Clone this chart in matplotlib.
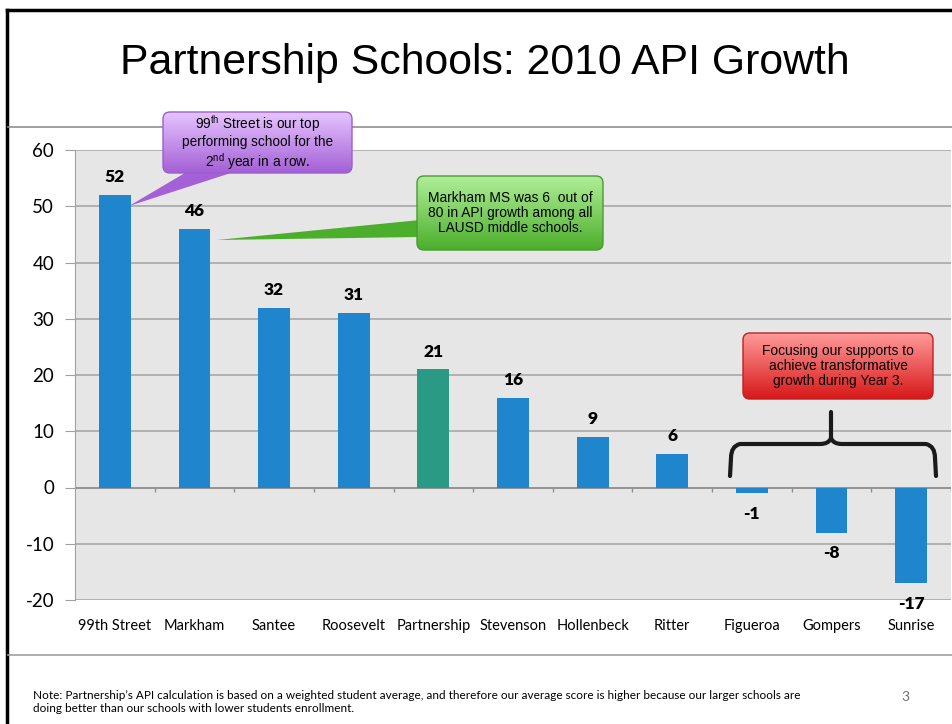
import matplotlib
matplotlib.use("Agg")
import matplotlib.pyplot as plt
import numpy as np
from matplotlib.patches import FancyBboxPatch, Polygon
from matplotlib.path import Path
from matplotlib.patches import PathPatch
from matplotlib.colors import LinearSegmentedColormap

schools = ["99th Street", "Markham", "Santee", "Roosevelt", "Partnership", "Stevenson",
           "Hollenbeck", "Ritter", "Figueroa", "Gompers", "Sunrise"]
growth = [52, 46, 32, 31, 21, 16, 9, 6, -1, -8, -17]
highlight = "Partnership"
yticks = [-20, -10, 0, 10, 20, 30, 40, 50, 60]

title = "Partnership Schools: 2010 API Growth"
note = ("Note: Partnership\u2019s API calculation is based on a weighted student average, and therefore our average score is higher because our larger schools are\n"
        "doing better than our schools with lower students enrollment.")

W, H = 952, 724
fig = plt.figure(figsize=(W / 100, H / 100), dpi=100)
fig.patch.set_facecolor("white")

def fx(x):
    return x / W

def fy(y):
    return 1 - y / H

# main chart axes
ax = fig.add_axes([fx(75), fy(600), fx(951) - fx(75), fy(150) - fy(600)])
ax.set_facecolor("#e6e6e6")
x = np.arange(len(schools))
colors = ["#2a9a84" if s == highlight else "#1f86cd" for s in schools]
ax.bar(x, growth, width=0.4, color=colors, zorder=3)
ax.set_xlim(-0.5, len(schools) - 0.5)
ax.set_ylim(-20, 60)
ax.set_yticks(yticks)
ax.set_yticklabels([str(t) for t in yticks], fontsize=13.5, family="Lato")
ax.tick_params(axis="y", length=7, color="#a0a0a0", pad=8)
ax.yaxis.grid(True, color="#a8a8a8", linewidth=1.2, zorder=1)
ax.set_axisbelow(True)
ax.set_xticks(x)
ax.set_xticklabels(schools, fontsize=10.5, family="Lato")
ax.tick_params(axis="x", length=0, pad=14)
for sp in ["top", "right", "bottom"]:
    ax.spines[sp].set_visible(False)
ax.spines["left"].set_color("#a0a0a0")
ax.axhline(0, color="#909090", linewidth=1.2, zorder=2)
ax.vlines(np.arange(len(schools)) + 0.5, -0.8, 0, color="#909090", linewidth=1, zorder=2)

for xi, v in zip(x, growth):
    if v >= 0:
        ax.annotate(str(v), (xi, v), xytext=(0, 7), textcoords="offset points",
                    ha="center", va="bottom", fontsize=12.5, fontweight="heavy", family="Lato")
    else:
        ax.annotate(str(v), (xi, v), xytext=(0, -9), textcoords="offset points",
                    ha="center", va="top", fontsize=12.5, fontweight="heavy", family="Lato")

# overlay in pixel coordinates for slide decorations
ov = fig.add_axes([0, 0, 1, 1], zorder=5)
ov.set_xlim(0, W)
ov.set_ylim(H, 0)
ov.axis("off")
ov.patch.set_alpha(0)

# slide borders and separators
ov.plot([7, 7], [10, H], color="black", linewidth=2.5)
ov.plot([7, W], [10, 10], color="black", linewidth=2.5)
ov.plot([8, W], [127, 127], color="#909090", linewidth=1.2)
ov.plot([8, W], [655, 655], color="#a0a0a0", linewidth=1.2)

ov.text(485, 63, title, ha="center", va="center", fontsize=30.8, family="Liberation Sans")
ov.text(33, 702, note, ha="left", va="center", fontsize=8.5, family="Lato", linespacing=1.3)
ov.text(905, 697, "3", ha="center", va="center", fontsize=10, color="#707070", family="Lato")

def callout(x0, y0, x1, y1, wedge, top, bottom, edge, lines, fs):
    poly = Polygon(wedge, closed=True, facecolor=bottom, edgecolor="none", zorder=6)
    ov.add_patch(poly)
    box = FancyBboxPatch((x0, y0), x1 - x0, y1 - y0,
                         boxstyle="round,pad=0,rounding_size=7",
                         facecolor="none", edgecolor=edge, linewidth=1, zorder=8)
    ov.add_patch(box)
    cmap = LinearSegmentedColormap.from_list("g", [top, bottom])
    grad = np.linspace(0, 1, 100).reshape(-1, 1)
    im = ov.imshow(grad, cmap=cmap, extent=(x0, x1, y1, y0), aspect="auto", zorder=7,
                   interpolation="bilinear")
    im.set_clip_path(box)
    ov.set_xlim(0, W)
    ov.set_ylim(H, 0)
    ov.text((x0 + x1) / 2, (y0 + y1) / 2, lines, ha="center", va="center",
            fontsize=fs, family="Liberation Sans", linespacing=1.12, zorder=9)

callout(163, 112, 352, 173,
        [(190, 170), (240, 170), (129, 206)],
        "#e6c4ff", "#a460d6", "#9a60c8",
        "99$^{\\mathregular{th}}$ Street is our top\nperforming school for the\n2$^{\\mathregular{nd}}$ year in a row.", 9.8)
callout(417, 176, 603, 250,
        [(420, 220), (420, 237), (217, 240)],
        "#b0ee98", "#4caf2c", "#4a9a30",
        "Markham MS was 6  out of\n80 in API growth among all\nLAUSD middle schools.", 9.9)
callout(743, 333, 933, 399,
        [(743, 333), (743, 333), (743, 333)],
        "#ff9a9a", "#d81818", "#c02020",
        "Focusing our supports to\nachieve transformative\ngrowth during Year 3.", 9.9)

# curly bracket
verts = [(730, 476), (731, 458), (731, 446), (740, 444), (820, 444), (829, 444), (831, 438),
         (831, 412), (831, 438), (833, 444), (842, 444), (926, 444), (935, 446), (935, 458),
         (936, 476)]
codes = [Path.MOVETO, Path.LINETO, Path.CURVE3, Path.CURVE3, Path.LINETO, Path.CURVE3,
         Path.CURVE3, Path.LINETO, Path.MOVETO, Path.CURVE3, Path.CURVE3, Path.LINETO,
         Path.CURVE3, Path.CURVE3, Path.LINETO]
ov.add_patch(PathPatch(Path(verts, codes), facecolor="none", edgecolor="#1a1a1a",
                       linewidth=3, zorder=6, capstyle="round", joinstyle="round"))

fig.savefig("out.png", dpi=100)
